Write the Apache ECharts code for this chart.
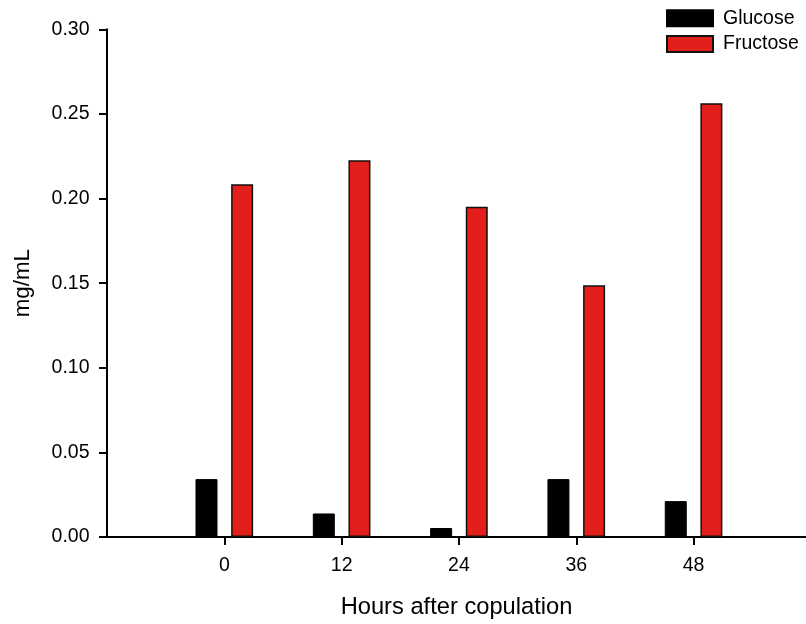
<!DOCTYPE html>
<html>
<head>
<meta charset="utf-8">
<script src="https://cdn.jsdelivr.net/npm/echarts@6/dist/echarts.min.js"></script>
<style>html,body{margin:0;padding:0;background:#fff}#c{width:806px;height:624px}</style>
</head>
<body>
<div id="c"></div>
<script>
var hours = [0, 12, 24, 36, 48];
var glucose = [0.0342, 0.0139, 0.0053, 0.0342, 0.0212];
var fructose = [0.2085, 0.2226, 0.1952, 0.1488, 0.2563];
var yTicks = [0, 0.05, 0.10, 0.15, 0.20, 0.25, 0.30];

var FONT = 'Liberation Sans, Arial, sans-serif';
var chart = echarts.init(document.getElementById('c'), null, {renderer: 'canvas'});
chart.setOption({
  animation: false,
  backgroundColor: '#fff',
  textStyle: {fontFamily: FONT, color: '#000'},
  grid: {left: 107, right: 0, top: 29.3, bottom: 85.7, containLabel: false},
  legend: {
    orient: 'vertical', left: 666, top: 8.3, padding: 0,
    itemWidth: 46, itemHeight: 16, itemGap: 5.7,
    icon: 'rect',
    textStyle: {fontFamily: FONT, fontSize: 19.5, color: '#000', lineHeight: 16, padding: [0, 0, 0, 5]},
    data: ['Glucose', 'Fructose']
  },
  xAxis: {
    type: 'value', min: -12, max: 59.5,
    name: 'Hours after copulation', nameLocation: 'middle', nameGap: 58,
    nameTextStyle: {fontFamily: FONT, fontSize: 23.7, color: '#000'},
    axisLine: {show: true, onZero: false, lineStyle: {color: '#000', width: 2}},
    axisTick: {show: true, inside: false, length: 8, customValues: hours, lineStyle: {color: '#000', width: 2}},
    axisLabel: {customValues: hours, margin: 19, fontFamily: FONT, fontSize: 19.5, color: '#000'},
    splitLine: {show: false}
  },
  yAxis: {
    type: 'value', min: 0, max: 0.30, interval: 0.05,
    name: 'mg/mL', nameLocation: 'middle', nameGap: 73.5, nameRotate: 90,
    nameTextStyle: {fontFamily: FONT, fontSize: 22.3, color: '#000'},
    axisLine: {show: true, onZero: false, lineStyle: {color: '#000', width: 2}},
    axisTick: {show: true, inside: false, length: 8, lineStyle: {color: '#000', width: 2}},
    axisLabel: {margin: 17.5, fontFamily: FONT, fontSize: 19.5, color: '#000',
      formatter: function (v) { return v.toFixed(2); }},
    splitLine: {show: false}
  },
  series: [
    {
      name: 'Glucose', type: 'bar', barWidth: 22, barGap: '62%',
      itemStyle: {color: '#000', borderColor: '#000', borderWidth: 1},
      data: hours.map(function (h, i) { return [h, glucose[i]]; })
    },
    {
      name: 'Fructose', type: 'bar', barWidth: 22, barGap: '62%',
      itemStyle: {color: '#e31f1b', borderColor: '#111', borderWidth: 1.5},
      data: hours.map(function (h, i) { return [h, fructose[i]]; })
    }
  ]
});
</script>
</body>
</html>
